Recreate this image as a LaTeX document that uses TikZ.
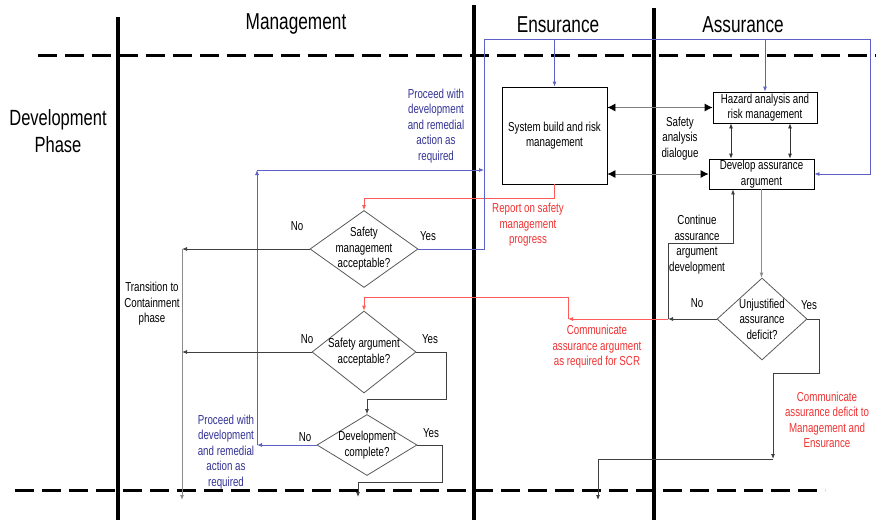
\documentclass[tikz,border=0pt]{standalone}
\usepackage{fontspec}
\setmainfont{Liberation Sans}[FakeStretch=0.75]
\usetikzlibrary{arrows.meta, shapes.geometric}

\definecolor{lnblue}{RGB}{95,95,200}
\definecolor{txblue}{RGB}{50,50,150}
\definecolor{lnred}{RGB}{255,90,90}
\definecolor{txred}{RGB}{240,50,50}

\begin{document}
\begin{tikzpicture}[x=1pt, y=-1pt,
                lane/.style={line width=3.5pt},
                phase/.style={line width=3pt, dash pattern=on 19pt off 8pt},
                title/.style={font=\fontsize{23}{26}\selectfont},
                txt/.style={align=center, font=\fontsize{13}{15.5}\selectfont, inner sep=0pt},
                box/.style={draw, line width=0.8pt, align=center, font=\fontsize{13}{15.5}\selectfont, inner sep=1pt},
                dia/.style={diamond, draw=black!65, line width=0.8pt, align=center, shape aspect=1.4,
                    inner sep=-6pt, font=\fontsize{13}{15.5}\selectfont},
                arr/.style={-{Latex[length=5pt, width=4pt]}, draw=black!75, line width=0.8pt},
                garr/.style={-{Latex[length=5pt, width=4pt]}, draw=black!45, line width=0.8pt},
                dbl/.style={{Latex[length=5pt, width=4pt]}-{Latex[length=5pt, width=4pt]}, draw=black!80, line width=0.8pt},
                big/.style={{Latex[length=8pt, width=8pt, color=black]}-{Latex[length=8pt, width=8pt, color=black]},
                    draw=black!50, line width=0.8pt},
                barr/.style={-{Latex[length=5pt, width=4pt]}, draw=lnblue, line width=0.8pt},
                rarr/.style={-{Latex[length=5pt, width=4pt]}, draw=lnred, line width=0.8pt}]
\useasboundingbox (0,0) rectangle (876,520);

\draw[lane] (118,17) -- (118,520);
\draw[lane] (474,5) -- (474,520);
\draw[lane] (654,8) -- (654,520);
\draw[phase] (38,55) -- (876,55);
\draw[phase] (15,490) -- (825,490);

\node[title] (mgt) at (296,24) {Management};
\node[title] (ens) at (558,25) {Ensurance};
\node[title] (asr) at (743,25) {Assurance};
\node[align=center, font=\fontsize{22}{27}\selectfont] (phs) at (58,131) {Development\\Phase};

\node[box, minimum width=105pt, minimum height=97pt] (sys) at (554.5,135.5) {System build and risk\\management};
\node[box, minimum width=104pt, minimum height=31pt] (haz) at (765,107.5) {Hazard analysis and\\risk management};
\node[box, minimum width=105pt, minimum height=30pt] (dev) at (761.5,174) {Develop assurance\\argument};

\node[dia, minimum width=108pt, minimum height=77pt] (smq) at (364,249) {Safety\\management\\acceptable?};
\node[dia, minimum width=104pt, minimum height=82pt] (saq) at (364,352) {Safety argument\\acceptable?};
\node[dia, minimum width=100pt, minimum height=61pt] (dcq) at (367,445) {Development\\complete?};
\node[dia, minimum width=90pt, minimum height=82pt] (udq) at (762,319) {Unjustified\\assurance\\deficit?};

\node[txt] (sad) at (680,138.5) {Safety\\analysis\\dialogue};
\node[txt] (cad) at (697,244.5) {Continue\\assurance\\argument\\development};
\node[txt] (ttc) at (152,304) {Transition to\\Containment\\phase};
\node[txt, text=txblue] (pw1) at (436,126) {Proceed with\\development\\and remedial\\action as\\required};
\node[txt, text=txblue] (pw2) at (226,452) {Proceed with\\development\\and remedial\\action as\\required};
\node[txt, text=txred] (rsp) at (528,225) {Report on safety\\management\\progress};
\node[txt, text=txred] (caa) at (597,347) {Communicate\\assurance argument\\as required for SCR};
\node[txt, text=txred] (cdm) at (827,420) {Communicate\\assurance deficit to\\Management and\\Ensurance};

\node[txt] (smn) at (297,226) {No};
\node[txt] (smy) at (428,236) {Yes};
\node[txt] (san) at (307,339) {No};
\node[txt] (say) at (430,339) {Yes};
\node[txt] (dcn) at (305,437) {No};
\node[txt] (dcy) at (431,433) {Yes};
\node[txt] (udn) at (697,303) {No};
\node[txt] (udy) at (809,305) {Yes};

\coordinate (t1) at (182,249);
\coordinate (t2) at (182,500);
\coordinate (bl1) at (484,39);
\coordinate (bl2) at (870,39);
\coordinate (bp1) at (257,445);
\coordinate (bp2) at (257,170);
\coordinate (a1) at (446,399);
\coordinate (d1) at (442,482);
\coordinate (d2) at (358,497);
\coordinate (cn) at (668,319);
\coordinate (cr) at (568,319);
\coordinate (cr2) at (568,297);
\coordinate (c2) at (733,243);
\coordinate (u1) at (819,373);
\coordinate (u2) at (773,459);
\coordinate (u3) at (598,500);

\draw[big] (sys.east |- haz.west) -- (haz.west);
\draw[big] (sys.east |- dev.west) -- (dev.west);
\draw[dbl] ([xshift=-34pt]haz.south) -- ([xshift=-34pt]haz.south |- dev.north);
\draw[dbl] ([xshift=25pt]haz.south) -- ([xshift=25pt]haz.south |- dev.north);
\draw[garr] (dev.south) -- (dev.south |- udq.north);
\draw[arr] (udq.west) -- (cn);
\draw[arr] (cn) |- (c2) -- (c2 |- dev.south);
\draw[rarr] (cn) -- (cr);
\draw[rarr] (cr) -- (cr2) -| (saq.north);
\draw[rarr] (sys.south) -- ++(0,14) -| (smq.north);
\draw[barr] (smq.east) -| (bl1) -- (bl2) |- (dev.east);
\draw[barr] (sys.north |- bl1) -- (sys.north);
\draw[barr] (haz.north |- bl1) -- (haz.north);
\draw[barr] (dcq.west) -- (bp1);
\draw[barr] (bp1) -- (bp2);
\draw[barr] (bp2) -- (bp2 -| bl1);
\draw[arr] (smq.west) -- (t1);
\draw[arr] (saq.west) -- (t1 |- saq.west);
\draw[garr] (t1) -- (t2);
\draw[arr] (saq.east) -| (a1) -| (dcq.north);
\draw[arr] (dcq.east) -| (d1) -| (d2);
\draw[arr] (udq.east) -| (u1) -| (u2);
\draw[arr] (u2) -| (u3);
\end{tikzpicture}
\end{document}
